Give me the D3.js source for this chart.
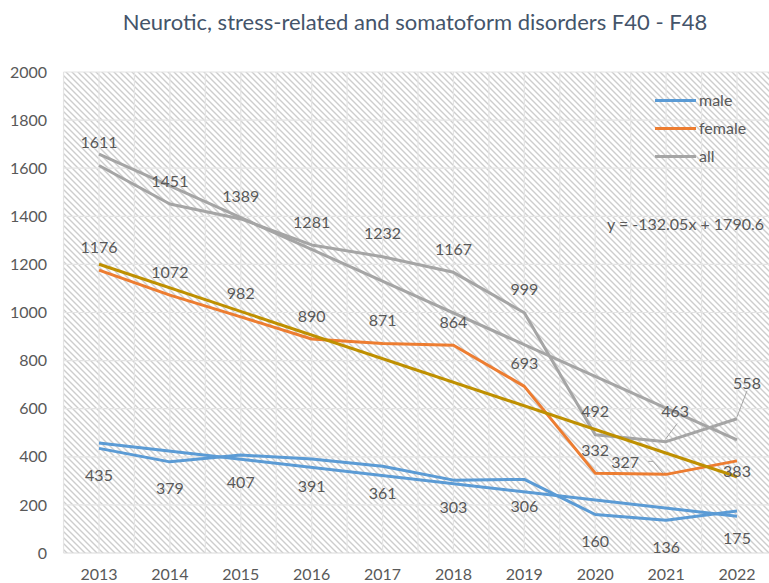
<!DOCTYPE html>
<html>
<head>
<meta charset="utf-8">
<script src="https://cdn.jsdelivr.net/npm/d3@7"></script>
<style>
  body { margin: 0; background: #fff; }
  svg { display: block; font-family: Lato, "Open Sans", sans-serif; }
</style>
</head>
<body>
<script>
// data
const years = [2013, 2014, 2015, 2016, 2017, 2018, 2019, 2020, 2021, 2022];
const male = [435, 379, 407, 391, 361, 303, 306, 160, 136, 175];
const female = [1176, 1072, 982, 890, 871, 864, 693, 332, 327, 383];
const all = [1611, 1451, 1389, 1281, 1232, 1167, 999, 492, 463, 558];
const yTicks = [0, 200, 400, 600, 800, 1000, 1200, 1400, 1600, 1800, 2000];
const title = "Neurotic, stress-related and somatoform disorders F40 - F48";

const W = 769, H = 583;
const plotLeft = 63.5, plotBottom = 553, plotTop = 72;

const svg = d3.select("body").append("svg")
    .attr("width", W).attr("height", H);

// hatched background
const defs = svg.append("defs");
const pat = defs.append("pattern")
    .attr("id", "hatch")
    .attr("patternUnits", "userSpaceOnUse")
    .attr("width", 6).attr("height", 6);
pat.append("path")
    .attr("d", "M0,0L6,6M-1,5L1,7M5,-1L7,1")
    .attr("stroke", "#cdcdcd")
    .attr("stroke-width", 1.4);

defs.append("clipPath").attr("id", "plotclip")
  .append("rect").attr("x", plotLeft).attr("y", plotTop - 5)
    .attr("width", W - plotLeft).attr("height", plotBottom - plotTop + 10);

const x = d3.scalePoint().domain(years).range([99, 737]);
const step = x.step();
const y = d3.scaleLinear().domain([0, 2000]).range([plotBottom, plotTop]);

svg.append("rect")
    .attr("x", plotLeft).attr("y", y(2000))
    .attr("width", W - plotLeft).attr("height", plotBottom - y(2000))
    .attr("fill", "url(#hatch)");

// grid
const grid = svg.append("g").attr("stroke", "#e4e4e4").attr("stroke-width", 1.2);
const vx = [];
years.forEach(d => { vx.push(x(d) - step / 2, x(d)); });
vx.push(x(years[years.length - 1]) + step / 2);
grid.selectAll("line.v").data(vx).join("line")
    .attr("class", "v")
    .attr("x1", d => d).attr("x2", d => d)
    .attr("y1", y(2000)).attr("y2", plotBottom);
grid.selectAll("line.h").data(yTicks.slice(1)).join("line")
    .attr("class", "h")
    .attr("x1", plotLeft).attr("x2", W)
    .attr("y1", d => y(d)).attr("y2", d => y(d));

svg.append("line")
    .attr("x1", plotLeft).attr("x2", W)
    .attr("y1", plotBottom).attr("y2", plotBottom)
    .attr("stroke", "#d9d9d9").attr("stroke-width", 1.2);

// axes labels
svg.append("g").selectAll("text").data(yTicks).join("text")
    .attr("x", 47).attr("y", d => y(d))
    .attr("dy", "0.35em")
    .attr("text-anchor", "end")
    .attr("fill", "#595959").attr("font-size", 16)
    .text(d => d);

svg.append("g").selectAll("text").data(years).join("text")
    .attr("x", d => x(d)).attr("y", 580)
    .attr("text-anchor", "middle")
    .attr("fill", "#595959").attr("font-size", 16)
    .text(d => d);

// title
svg.append("text")
    .attr("x", 415).attr("y", 30)
    .attr("text-anchor", "middle")
    .attr("fill", "#44546a").attr("font-size", 22)
    .text(title);

// linear trend (least squares over 1..n)
function trend(vals) {
  const n = vals.length;
  const xs = d3.range(1, n + 1);
  const mx = d3.mean(xs), my = d3.mean(vals);
  const sxy = d3.sum(xs, (v, i) => (v - mx) * (vals[i] - my));
  const sxx = d3.sum(xs, v => (v - mx) * (v - mx));
  const m = sxy / sxx;
  return { m: m, b: my - m * mx };
}

const line = d3.line().x((d, i) => x(years[i])).y(d => y(d));
const plot = svg.append("g").attr("clip-path", "url(#plotclip)");

const series = [
  { name: "male", vals: male, color: "#5b9bd5", trendColor: "#5b9bd5" },
  { name: "female", vals: female, color: "#ed7d31", trendColor: "#bf9000" },
  { name: "all", vals: all, color: "#a5a5a5", trendColor: "#a5a5a5" }
];

series.forEach(s => {
  plot.append("path")
      .attr("d", line(s.vals))
      .attr("fill", "none")
      .attr("stroke", s.color)
      .attr("stroke-width", 3)
      .attr("stroke-linejoin", "round");
});

series.forEach(s => {
  const t = trend(s.vals);
  s.fit = t;
  plot.append("line")
      .attr("x1", x(years[0])).attr("y1", y(t.m * 1 + t.b))
      .attr("x2", x(years[years.length - 1])).attr("y2", y(t.m * years.length + t.b))
      .attr("stroke", s.trendColor)
      .attr("stroke-width", 3);
});

// data labels
const offsets = {
  male: years.map(() => [0, 27]),
  female: years.map(() => [0, -23]),
  all: years.map(() => [0, -23])
};
offsets.female[8] = [-41, -12];
offsets.female[9] = [0, 11];
offsets.all[8] = [9, -30];
offsets.all[9] = [10, -35];

const leaders = [
  { s: "female", i: 8, pts: [[-18, -13], [-13, -13], [-3, -1]] },
  { s: "all", i: 8, pts: [[11, -18], [-1, -2]] },
  { s: "all", i: 9, pts: [[10, -28], [0, -2]] }
];

const lab = svg.append("g").attr("font-size", 16).attr("fill", "#595959")
    .attr("text-anchor", "middle");
series.forEach(s => {
  lab.selectAll(null).data(s.vals).join("text")
      .attr("x", (d, i) => x(years[i]) + offsets[s.name][i][0])
      .attr("y", (d, i) => y(d) + offsets[s.name][i][1])
      .attr("dy", "0.35em")
      .text(d => d);
});

leaders.forEach(l => {
  const vals = series.find(s => s.name === l.s).vals;
  const px = x(years[l.i]), py = y(vals[l.i]);
  svg.append("path")
      .attr("d", d3.line()(l.pts.map(p => [px + p[0], py + p[1]])))
      .attr("fill", "none")
      .attr("stroke", "#a6a6a6")
      .attr("stroke-width", 1);
});

// equation of the "all" trend
const fa = series[2].fit;
svg.append("text")
    .attr("x", 764).attr("y", 224)
    .attr("dy", "0.35em")
    .attr("text-anchor", "end")
    .attr("fill", "#595959").attr("font-size", 16)
    .text("y = " + d3.format(".2f")(fa.m).replace("\u2212", "-") + "x + " + d3.format(".1f")(fa.b));

// legend
const leg = svg.append("g");
series.forEach((s, i) => {
  const ly = 100.5 + i * 28;
  leg.append("line")
      .attr("x1", 655).attr("x2", 696)
      .attr("y1", ly).attr("y2", ly)
      .attr("stroke", s.color).attr("stroke-width", 3);
  leg.append("text")
      .attr("x", 699).attr("y", ly)
      .attr("dy", "0.35em")
      .attr("fill", "#595959").attr("font-size", 16)
      .text(s.name);
});
</script>
</body>
</html>
